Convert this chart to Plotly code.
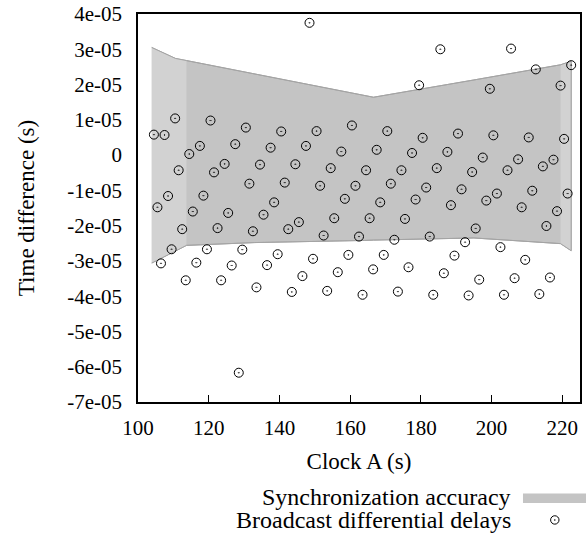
import plotly.graph_objects as go

# ---- data ----
clock_a = [104.5, 105.5, 106.5, 107.5, 108.5, 109.5, 110.5, 111.5, 112.5, 113.5,
           114.5, 115.5, 116.5, 117.5, 118.5, 119.5, 120.5, 121.5, 122.5, 123.5,
           124.5, 125.5, 126.5, 127.5, 128.5, 129.5, 130.5, 131.5, 132.5, 133.5,
           134.5, 135.5, 136.5, 137.5, 138.5, 139.5, 140.5, 141.5, 142.5, 143.5,
           144.5, 145.5, 146.5, 147.5, 148.5, 149.5, 150.5, 151.5, 152.5, 153.5,
           154.5, 155.5, 156.5, 157.5, 158.5, 159.5, 160.5, 161.5, 162.5, 163.5,
           164.5, 165.5, 166.5, 167.5, 168.5, 169.5, 170.5, 171.5, 172.5, 173.5,
           174.5, 175.5, 176.5, 177.5, 178.5, 179.5, 180.5, 181.5, 182.5, 183.5,
           184.5, 185.5, 186.5, 187.5, 188.5, 189.5, 190.5, 191.5, 192.5, 193.5,
           194.5, 195.5, 196.5, 197.5, 198.5, 199.5, 200.5, 201.5, 202.5, 203.5,
           204.5, 205.5, 206.5, 207.5, 208.5, 209.5, 210.5, 211.5, 212.5, 213.5,
           214.5, 215.5, 216.5, 217.5, 218.5, 219.5, 220.5, 221.5, 222.5]

# broadcast differential delays, in units of 1e-5 s
delays_e5 = [0.58, -1.48, -3.07, 0.57, -1.16, -2.67, 1.04, -0.43, -2.10, -3.55,
             0.03, -1.60, -3.05, 0.26, -1.15, -2.67, 0.98, -0.49, -2.07, -3.55,
             -0.25, -1.64, -3.13, 0.31, -6.17, -2.68, 0.78, -0.81, -2.16, -3.75,
             -0.27, -1.69, -3.12, 0.21, -1.34, -2.81, 0.67, -0.78, -2.10, -3.88,
             -0.26, -1.90, -3.43, 0.26, 3.75, -2.94, 0.68, -0.87, -2.28, -3.85,
             -0.37, -1.79, -3.32, 0.10, -1.24, -2.83, 0.84, -0.87, -2.31, -3.96,
             -0.43, -1.79, -3.24, 0.15, -1.34, -2.83, 0.68, -0.81, -2.40, -3.87,
             -0.43, -1.81, -3.18, 0.06, -1.26, 1.98, 0.49, -0.92, -2.31, -3.96,
             -0.37, 3.00, -3.35, 0.09, -1.42, -2.85, 0.61, -0.97, -2.47, -3.98,
             -0.48, -2.08, -3.53, -0.07, -1.29, 1.88, 0.56, -1.09, -2.61, -3.96,
             -0.43, 3.02, -3.49, -0.12, -1.48, -2.97, 0.50, -1.01, 2.43, -3.94,
             -0.32, -2.01, -3.47, -0.13, -1.59, 1.97, 0.46, -1.09, 2.55]

# synchronization accuracy band (upper / lower bounds, units of 1e-5 s)
band_x = [103.9, 110.6, 113.7, 133.0, 164.0, 166.6, 195.0, 219.5, 222.5]
band_upper_e5 = [3.05, 2.74, 2.68, 2.30, 1.69, 1.64, 2.13, 2.56, 2.66]
band_lower_e5 = [-3.06, -2.72, -2.56, -2.48, -2.42, -2.41, -2.35, -2.51, -2.71]

y_ticks_e5 = [4, 3, 2, 1, 0, -1, -2, -3, -4, -5, -6, -7]
y_tick_labels = ["4e-05", "3e-05", "2e-05", "1e-05", "0", "-1e-05", "-2e-05",
                 "-3e-05", "-4e-05", "-5e-05", "-6e-05", "-7e-05"]
x_ticks = [100, 120, 140, 160, 180, 200, 220]

legend_labels = ["Synchronization accuracy", "Broadcast differential delays"]
x_title = "Clock A (s)"
y_title = "Time difference (s)"

SCALE = 1e-5
delays = [v * SCALE for v in delays_e5]
band_upper = [v * SCALE for v in band_upper_e5]
band_lower = [v * SCALE for v in band_lower_e5]
y_ticks = [v * SCALE for v in y_ticks_e5]
Y_RANGE = [-7e-5, 4e-5]
X_RANGE = [100, 225]

FONT = "Liberation Serif"
BAND = "#c4c4c4"
BAND_LIGHT = "#d2d2d2"


def polygon(i0, i1):
    xs = band_x[i0:i1 + 1]
    up = band_upper[i0:i1 + 1]
    lo = band_lower[i0:i1 + 1]
    return xs + xs[::-1], up + lo[::-1]


fig = go.Figure()

px_, py_ = polygon(0, len(band_x) - 1)
fig.add_trace(go.Scatter(x=px_, y=py_, fill="toself", fillcolor=BAND,
                         line=dict(color="#a4a4a4", width=1), mode="lines",
                         hoverinfo="skip", showlegend=False))
# lighter ends of the band
for i0, i1 in [(0, 2), (7, 8)]:
    qx, qy = polygon(i0, i1)
    fig.add_trace(go.Scatter(x=qx, y=qy, fill="toself", fillcolor=BAND_LIGHT,
                             line=dict(width=0), mode="lines",
                             hoverinfo="skip", showlegend=False))
# re-draw edge line on top
fig.add_trace(go.Scatter(x=px_, y=py_, mode="lines",
                         line=dict(color="#a4a4a4", width=1),
                         hoverinfo="skip", showlegend=False))

fig.add_trace(go.Scatter(x=clock_a, y=delays, mode="markers",
                         marker=dict(symbol="circle-open-dot", size=9,
                                     color="black", line=dict(color="black", width=1)),
                         showlegend=False))

tickfont = dict(family=FONT, size=21, color="black")
titlefont = dict(family=FONT, size=23, color="black")

fig.update_layout(
    xaxis=dict(range=X_RANGE, tickvals=x_ticks, showline=True, linecolor="black",
               linewidth=1.5, mirror=True, showgrid=False, zeroline=False,
               ticks="inside", ticklen=7, tickwidth=1, tickcolor="black",
               automargin=False, tickfont=tickfont, ticklabelstandoff=6,
               title=dict(text=x_title, font=titlefont, standoff=14)),
    # labels of the y axis (ticks drawn by the overlay axis below)
    yaxis=dict(range=Y_RANGE, tickvals=y_ticks, ticktext=y_tick_labels,
               showline=True, linecolor="black", linewidth=1.5, mirror=True,
               showgrid=False, zeroline=False, ticks="outside", ticklen=0,
               automargin=False, tickfont=tickfont, ticklabelstandoff=10,
               title=dict(text=y_title, font=titlefont, standoff=26)),
    # inward tick marks of the y axis
    yaxis2=dict(range=Y_RANGE, tickvals=y_ticks, overlaying="y", side="left",
                showline=False, showgrid=False, zeroline=False, ticks="inside",
                ticklen=7, tickwidth=1, tickcolor="black", showticklabels=False,
                automargin=False),
)

# manual legend (symbols to the right of the labels, below the plot)
legend_font = dict(family=FONT, size=24, color="black")
fig.add_annotation(x=0.846, y=-0.245, xref="paper", yref="paper", text=legend_labels[0],
                   showarrow=False, xanchor="right", yanchor="middle", font=legend_font,
                   borderpad=0)
fig.add_annotation(x=0.846, y=-0.304, xref="paper", yref="paper", text=legend_labels[1],
                   showarrow=False, xanchor="right", yanchor="middle", font=legend_font,
                   borderpad=0)
fig.add_shape(type="rect", xref="paper", yref="paper", x0=0.871, x1=1.04,
              y0=-0.26, y1=-0.236, fillcolor=BAND, line=dict(width=0))
fig.add_shape(type="circle", xref="paper", yref="paper", xsizemode="pixel",
              ysizemode="pixel", xanchor=0.943, yanchor=-0.304,
              x0=-4.2, x1=4.2, y0=-4.2, y1=4.2, line=dict(color="black", width=1))
fig.add_shape(type="circle", xref="paper", yref="paper", xsizemode="pixel",
              ysizemode="pixel", xanchor=0.943, yanchor=-0.304,
              x0=-0.8, x1=0.8, y0=-0.8, y1=0.8, fillcolor="black",
              line=dict(color="black", width=0))

fig.update_layout(template="none", width=586, height=533,
                  plot_bgcolor="white", paper_bgcolor="white",
                  margin=dict(l=138, r=6, t=14, b=131), showlegend=False,
                  font=dict(family=FONT, color="black"))

# remove the default page margin so the figure sits at the window's corner
fig.write_html("out.html", config={"displayModeBar": False},
               post_script="document.body.style.margin='0';"
                           "document.body.style.overflow='hidden';")
